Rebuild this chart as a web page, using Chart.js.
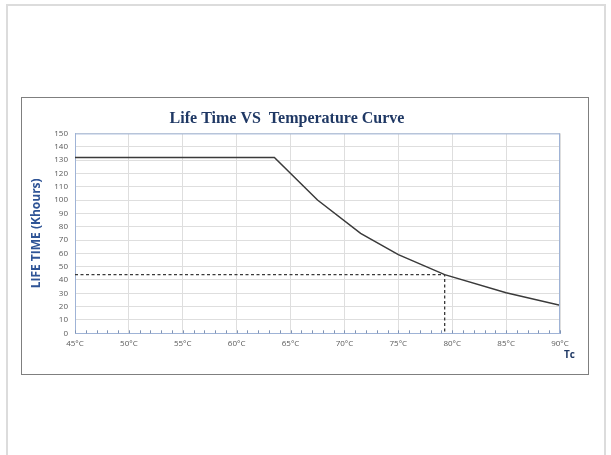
<!DOCTYPE html>
<html><head><meta charset="utf-8">
<script src="https://cdn.jsdelivr.net/npm/chart.js@4.4.0/dist/chart.umd.min.js"></script>
<style>
html,body{margin:0;padding:0;background:#fff;width:611px;height:455px;overflow:hidden;}
#outer{position:absolute;left:6px;top:4px;width:600px;height:480px;border:2px solid #dcdcdc;box-sizing:border-box;}
#box{position:absolute;left:21px;top:97px;width:568px;height:278px;border:1.5px solid #7f7f7f;box-sizing:border-box;}
#wrap{position:absolute;left:14px;top:99px;width:586px;height:276px;}
</style></head>
<body>
<div id="outer"></div>
<div id="box"></div>
<div id="wrap"><canvas id="c" width="586" height="276"></canvas></div>
<script>
const chartTitle = 'Life Time VS  Temperature Curve';
const yAxisTitle = 'LIFE TIME (Khours)';
const xAxisTitle = 'Tc';
const temps = [45, 63.5, 67.5, 71.5, 75, 79.3, 85, 90];
const lifeKh = [132, 132, 100, 75, 59, 44, 30.5, 21];
const refX = [45, 79.3, 79.3];
const refY = [44, 44, 0];
const xMin = 45, xMax = 90, xMinorStep = 1, xLabelStep = 5;
const yMin = 0, yMax = 150, yStep = 10;

const axisBlue = '#9fb3d6';
const minorTick = '#7f93b4';
const gridGrey = '#dedede';
const tickColor = '#595959';
const navy = '#1f3864';

const extras = {
  id: 'extras',
  afterDatasetsDraw(chart) {
    const {ctx, chartArea: a, scales} = chart;
    ctx.save();
    ctx.strokeStyle = axisBlue;
    ctx.lineWidth = 1;
    ctx.beginPath();
    ctx.moveTo(a.left, a.top + 0.5); ctx.lineTo(a.right, a.top + 0.5);
    ctx.moveTo(a.right - 0.5, a.top); ctx.lineTo(a.right - 0.5, a.bottom);
    ctx.stroke();
    ctx.strokeStyle = minorTick;
    ctx.beginPath();
    scales.x.ticks.forEach(t => {
      const px = Math.round(scales.x.getPixelForValue(t.value)) + 0.5;
      ctx.moveTo(px, a.bottom); ctx.lineTo(px, a.bottom - 3);
    });
    ctx.stroke();
    ctx.fillStyle = navy;
    ctx.font = 'bold 10px "Open Sans"';
    ctx.textAlign = 'left';
    ctx.textBaseline = 'middle';
    ctx.fillText(xAxisTitle, a.right + 4, a.bottom + 22);
    ctx.restore();
  }
};

new Chart(document.getElementById('c'), {
  type: 'scatter',
  data: {
    datasets: [
      {
        data: temps.map((t, i) => ({x: t, y: lifeKh[i]})),
        showLine: true, borderColor: '#3a3a3a', borderWidth: 1.5,
        pointRadius: 0, tension: 0
      },
      {
        data: refX.map((t, i) => ({x: t, y: refY[i]})),
        showLine: true, borderColor: '#3a3a3a', borderWidth: 1.3,
        borderDash: [3, 2.5], pointRadius: 0, tension: 0
      }
    ]
  },
  plugins: [extras],
  options: {
    responsive: false,
    animation: false,
    layout: {padding: {left: 0, right: 40, top: 0, bottom: 0}},
    plugins: {
      legend: {display: false},
      tooltip: {enabled: false},
      title: {
        display: true, text: chartTitle, color: navy,
        font: {family: '"Liberation Serif"', size: 16, weight: 'bold', lineHeight: 1.2},
        padding: {top: 10, bottom: 5.2}
      }
    },
    scales: {
      x: {
        type: 'linear', min: xMin, max: xMax,
        afterFit: s => { s.height = 41.7; },
        ticks: {
          stepSize: xMinorStep, autoSkip: false, maxRotation: 0, padding: 6,
          color: tickColor, font: {family: '"Open Sans"', size: 8},
          callback: v => (v % xLabelStep === 0 ? v + '°C' : '')
        },
        grid: {
          drawTicks: false,
          color: c => (c.tick && c.tick.value % xLabelStep === 0 ? gridGrey : 'rgba(0,0,0,0)')
        },
        border: {display: true, color: axisBlue, width: 1}
      },
      y: {
        min: yMin, max: yMax,
        afterFit: s => { s.width = 61; },
        ticks: {
          stepSize: yStep, padding: 7, color: tickColor,
          font: {family: '"Open Sans"', size: 8}
        },
        grid: {drawTicks: false, color: gridGrey},
        border: {display: true, color: axisBlue, width: 1},
        title: {
          display: true, text: yAxisTitle, color: '#2f5496',
          font: {family: '"Open Sans"', size: 12, weight: 'bold'},
          padding: {top: 15, bottom: 0}
        }
      }
    }
  }
});
</script>
</body></html>
